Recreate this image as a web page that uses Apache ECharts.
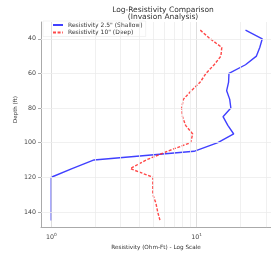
<!DOCTYPE html>
<html>
<head>
<meta charset="utf-8">
<script src="https://cdn.jsdelivr.net/npm/echarts@6/dist/echarts.min.js"></script>
<style>
  html, body { margin: 0; padding: 0; background: #fff; }
  #main { width: 271px; height: 256px; }
</style>
</head>
<body>
<div id="main"></div>
<script>
// 深度 (ft)
var depth = [35, 40, 45, 50, 55, 60, 65, 70, 75, 80, 85, 90, 95, 100, 105, 110, 115, 120, 125, 130, 135, 140, 145]
// 浅探测 2.5"
var shallow = [21.7, 28.3, 27.2, 25.8, 21.7, 16.7, 16.6, 16.1, 16.9, 17.2, 15.2, 16.4, 18.0, 14.0, 9.6, 1.97, 1.39, 1.0, 1.0, 1.0, 1.0, 1.0, 1.0]
// 深探测 10"
var deep = [10.6, 12.4, 14.9, 14.7, 13.2, 11.6, 10.6, 9.2, 8.1, 7.9, 8.0, 8.4, 9.4, 9.1, 6.3, 4.5, 3.5, 5.0, 5.0, 5.0, 5.25, 5.4, 5.6]
// 刻度
var depthTicks = [40, 60, 80, 100, 120, 140]
var majorX = [1, 10]
var minorX = [2, 3, 4, 5, 6, 7, 8, 9, 20, 30]

var pairs = function(xs, ys) {
    var res = []
    for (var i = 0; i < xs.length; i++) {
        res.push([xs[i], ys[i]])
    }
    return res
}

var FONT = 'DejaVu Sans'
var mychart = echarts.init(document.getElementById('main'))

var gridLines = []
for (var i of minorX) gridLines.push({ xAxis: i, lineStyle: { color: '#ececec' } })
for (var i of majorX) gridLines.push({ xAxis: i, lineStyle: { color: '#d6d6d6' } })
for (var i of depthTicks) gridLines.push({ yAxis: i, lineStyle: { color: '#ececec' } })

mychart.setOption({
    animation: false,
    textStyle: { fontFamily: FONT },
    title: {
        text: 'Log-Resistivity Comparison\n(Invasion Analysis)',
        left: 158,
        textAlign: 'center',
        top: 2,
        textStyle: { fontSize: 7.5, fontWeight: 'normal', color: '#333', lineHeight: 7, fontFamily: FONT }
    },
    legend: {
        data: ['Resistivity 2.5" (Shallow)', 'Resistivity 10" (Deep)'],
        orient: 'vertical',
        left: 43,
        top: 21,
        itemWidth: 10,
        itemHeight: 5,
        itemGap: 1.5,
        padding: [1, 3, 1, 9],
        backgroundColor: '#fff',
        borderColor: '#e6e6e6',
        borderWidth: 0.5,
        itemStyle: { opacity: 0 },
        textStyle: { fontSize: 6, color: '#333', fontFamily: FONT }
    },
    grid: { left: 41, top: 22, width: 234, height: 211 },
    xAxis: {
        type: 'log',
        logBase: 10,
        min: 0.85,
        max: 32.5,
        name: 'Resistivity (Ohm-Ft) - Log Scale',
        nameLocation: 'middle',
        nameGap: 17,
        nameTextStyle: { fontSize: 5.7, color: '#333', fontFamily: FONT },
        axisLine: { show: true, lineStyle: { color: '#aaa', width: 1 } },
        axisTick: { show: false },
        splitLine: { show: false },
        minorTick: { show: false },
        axisLabel: {
            fontSize: 6.3,
            color: '#444',
            margin: 6,
            showMinLabel: false,
            showMaxLabel: false,
            formatter: function(v) {
                if (Math.abs(v - 1) < 1e-6) return '10{s|0}'
                if (Math.abs(v - 10) < 1e-6) return '10{s|1}'
                return ''
            },
            rich: { s: { fontSize: 4.3, padding: [0, 0, 4, 0], color: '#444' } }
        }
    },
    yAxis: {
        type: 'value',
        inverse: true,
        min: 30.3,
        max: 148.8,
        name: 'Depth (ft)',
        nameLocation: 'middle',
        nameGap: 22,
        nameMoveOverlap: false,
        nameTextStyle: { fontSize: 5.5, color: '#333', fontFamily: FONT, padding: [0, 0, 0, 30] },
        axisLine: { show: true, lineStyle: { color: '#aaa', width: 1 } },
        axisTick: { show: true, length: 3, lineStyle: { color: '#aaa' }, customValues: depthTicks },
        splitLine: { show: false },
        axisLabel: { fontSize: 6.3, color: '#444', margin: 5, customValues: depthTicks }
    },
    series: [
        {
            name: 'grid',
            type: 'line',
            data: [],
            z: 1,
            silent: true,
            markLine: {
                silent: true,
                symbol: 'none',
                label: { show: false },
                lineStyle: { type: 'solid', width: 0.8 },
                data: gridLines
            }
        },
        {
            name: 'Resistivity 2.5" (Shallow)',
            type: 'line',
            z: 3,
            data: pairs(shallow, depth),
            showSymbol: false,
            symbol: 'none',
            color: 'rgba(30,30,255,0.85)',
            lineStyle: { width: 1.4, color: 'rgba(30,30,255,0.85)' }
        },
        {
            name: 'Resistivity 10" (Deep)',
            type: 'line',
            z: 3,
            data: pairs(deep, depth),
            showSymbol: false,
            symbol: 'none',
            color: 'rgba(255,40,40,0.85)',
            lineStyle: { width: 1.4, type: [3, 1.6], color: 'rgba(255,40,40,0.85)' }
        }
    ]
})
</script>
</body>
</html>
